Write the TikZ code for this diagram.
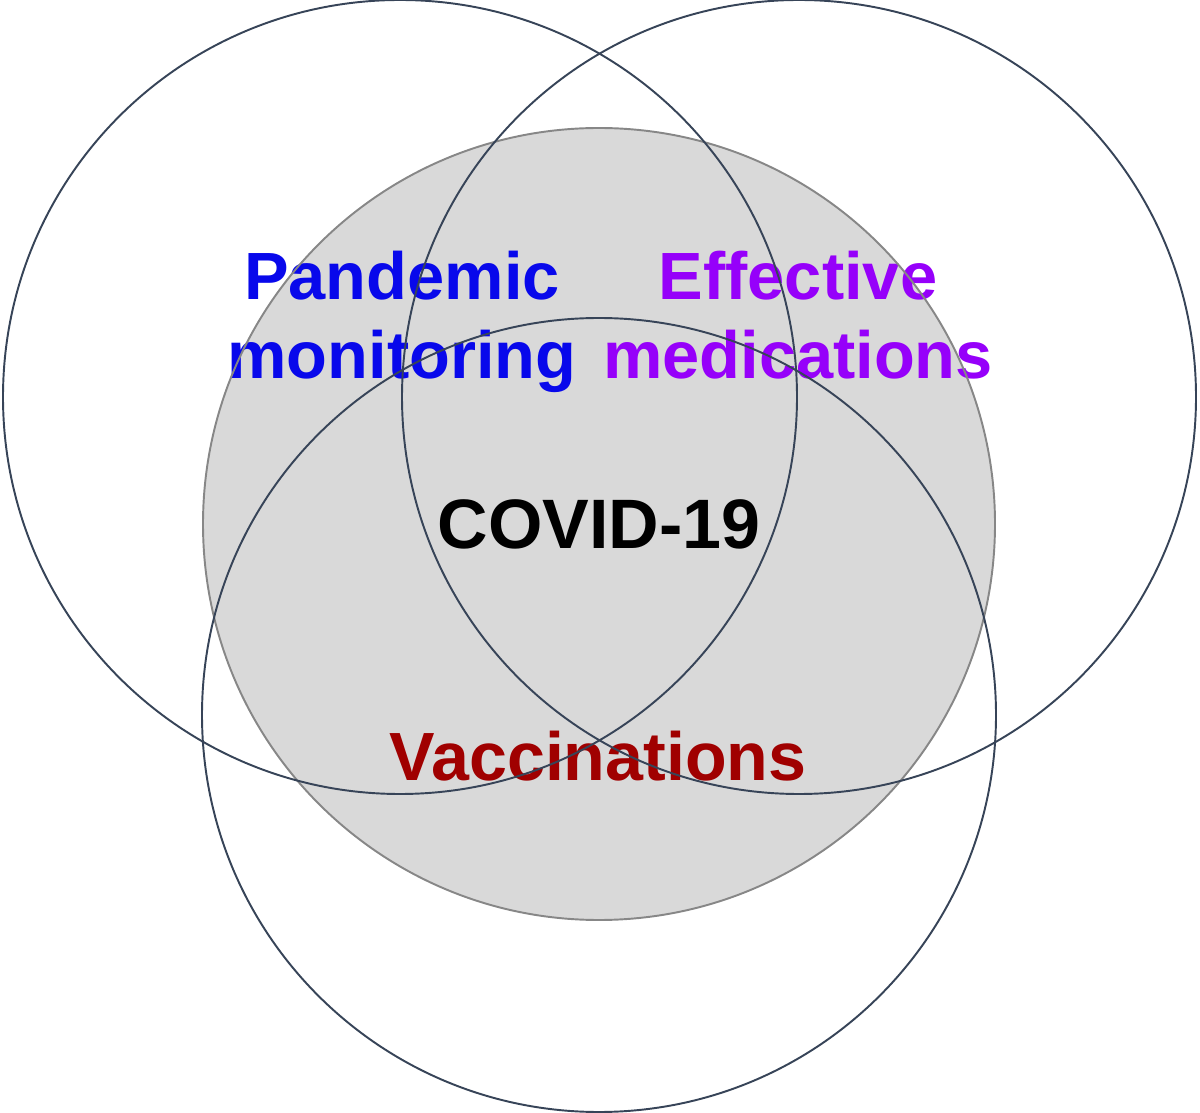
\documentclass[tikz,border=0pt]{standalone}
\usepackage{fontspec}
\setmainfont{Liberation Sans}
\usepackage{xcolor}
\definecolor{ringline}{RGB}{55,68,88}
\definecolor{coreFill}{RGB}{217,217,217}
\definecolor{coreLine}{RGB}{135,135,135}
\definecolor{monBlue}{RGB}{8,8,235}
\definecolor{medPurple}{RGB}{150,0,250}
\definecolor{vacRed}{RGB}{160,0,0}

\begin{document}
\begin{tikzpicture}[x=0.01cm, y=-0.01cm,
    lbl/.style={font=\fontsize{19}{22.5}\selectfont\bfseries, align=center, inner sep=0pt}]
            \useasboundingbox (0,0) rectangle (1200,1113);               %Rahmen
            \fill [coreFill] (599,524) circle [radius=396];              %grauer Kreis
            \node [lbl, monBlue, anchor=north] (mon) at (402,250) {Pandemic\\monitoring};
            \node [lbl, medPurple, anchor=north] (med) at (798,250) {Effective\\medications};
            \node [lbl, font=\fontsize{19.9}{24}\selectfont\bfseries] (cov) at (599,524) {COVID-19};
            \node [lbl, vacRed, anchor=base, font=\fontsize{19.4}{23}\selectfont\bfseries] (vac) at (598,780) {Vaccinations};
            \draw [coreLine, line width=0.55pt] (599,524) circle [radius=396];
            \draw [ringline, line width=0.55pt] (400,397) circle [radius=397];   %links
            \draw [ringline, line width=0.55pt] (799,397) circle [radius=397];   %rechts
            \draw [ringline, line width=0.55pt] (599,715) circle [radius=397];   %unten
\end{tikzpicture}
\end{document}
